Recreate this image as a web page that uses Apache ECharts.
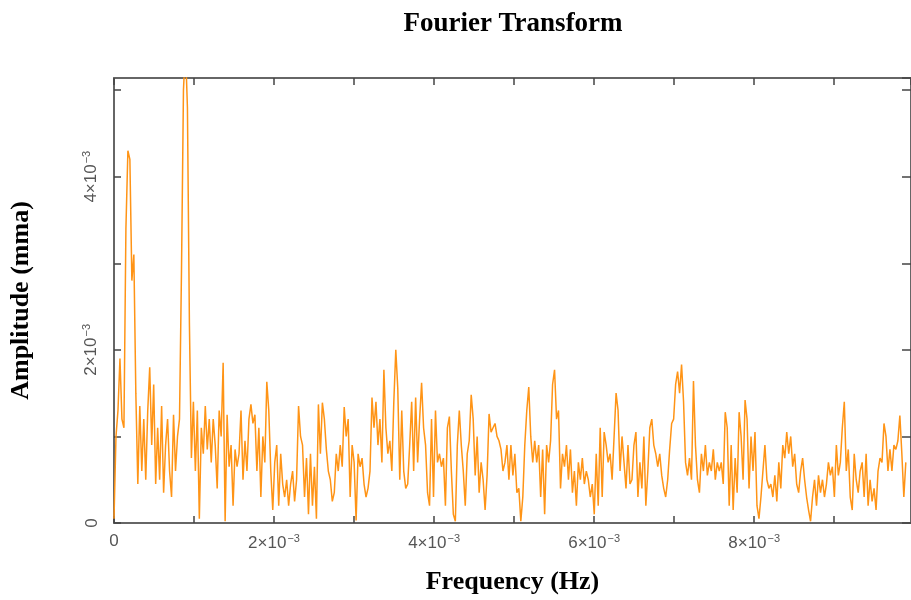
<!DOCTYPE html>
<html>
<head>
<meta charset="utf-8">
<script src="https://cdn.jsdelivr.net/npm/echarts@6/dist/echarts.min.js"></script>
<style>
html,body{margin:0;padding:0;background:#fff;}
#chart{width:911px;height:600px;}
</style>
</head>
<body>
<div id="chart"></div>
<script>
// Frequency in units of 10^-3 Hz, amplitude in units of 10^-3 (mma)
var titleText = 'Fourier Transform';
var xTitle = 'Frequency (Hz)';
var yTitle = 'Amplitude (mma)';
var freqStep = 0.0248;           // frequency bin width (x10^-3 Hz)
var xTickLabels = ['0', '2', '4', '6', '8'];
var yTickLabels = ['0', '2', '4'];
var amplitude = [
0.05,1.0,1.3,1.9,1.2,1.1,3.4,4.3,4.2,2.8,
3.1,1.5,0.45,1.35,0.6,1.2,0.5,1.3,1.8,0.9,
1.6,0.45,1.1,0.5,1.35,0.35,0.9,1.2,0.6,0.3,
1.25,0.6,1.0,1.2,2.9,5.0,5.5,4.8,2.3,0.75,
1.4,0.6,1.3,0.05,1.1,0.8,1.35,0.85,1.2,0.7,
1.2,0.9,0.4,1.3,1.0,1.85,0.02,1.25,0.65,0.9,
0.2,0.85,0.65,0.8,1.3,0.5,0.95,0.6,1.2,1.37,
1.15,1.25,0.6,1.1,0.3,1.0,0.7,1.63,1.3,0.6,
0.15,0.7,0.9,0.2,0.8,0.45,0.3,0.5,0.2,0.45,
0.6,0.25,0.5,1.35,1.0,0.9,0.3,0.75,0.1,0.8,
0.2,0.65,0.05,1.37,0.8,1.39,1.2,0.85,0.6,0.5,
0.25,0.35,0.8,0.6,0.9,0.65,1.34,1.0,1.2,0.3,
0.9,0.7,0.03,0.8,0.65,0.75,0.45,0.3,0.4,0.6,
1.45,1.1,1.4,0.9,1.2,0.7,1.77,1.1,0.8,0.95,
0.6,1.4,2.0,1.55,0.5,1.3,0.6,0.4,0.45,0.9,
1.4,0.6,1.45,0.7,1.2,1.62,1.1,0.9,0.35,0.2,
1.2,0.3,1.3,0.7,0.8,0.65,0.75,0.2,1.1,1.23,
0.6,0.1,0.02,0.9,1.3,0.9,0.6,0.2,0.8,0.95,
1.48,1.2,0.55,1.0,0.35,0.7,0.5,0.15,0.55,1.26,
1.05,1.1,1.15,1.0,0.95,0.85,0.6,0.7,0.9,0.5,
0.9,0.55,0.8,0.35,0.4,0.02,0.3,0.9,1.3,1.57,
1.0,0.7,0.95,0.7,0.9,0.3,0.85,0.1,0.9,0.7,
0.95,1.6,1.77,1.2,1.3,0.4,0.8,0.65,0.9,0.5,
0.85,0.35,0.6,0.2,0.7,0.5,0.75,0.45,0.6,0.5,
0.3,0.45,0.1,0.8,0.2,1.1,0.3,1.05,0.9,0.7,
0.8,0.5,1.0,1.5,1.3,0.6,1.0,0.7,0.4,0.9,
0.45,0.5,0.9,1.05,0.3,0.7,0.4,1.0,0.2,0.6,
1.1,1.2,0.9,0.8,0.65,0.8,0.55,0.4,0.3,0.5,
0.85,1.15,1.2,1.6,1.75,1.5,1.83,1.4,0.7,0.55,
0.75,0.5,1.64,0.9,0.5,0.35,0.8,0.6,0.9,0.55,
0.7,0.6,0.85,0.5,0.7,0.6,0.7,0.45,1.28,1.1,
0.2,0.9,0.15,0.75,0.35,1.28,1.0,0.5,1.42,1.2,
0.4,1.0,0.6,1.05,0.2,0.05,0.3,0.6,0.9,0.5,
0.4,0.45,0.3,0.55,0.25,0.7,0.4,0.9,0.75,1.05,
0.8,1.0,0.65,0.8,0.45,0.35,0.6,0.75,0.5,0.3,
0.15,0.02,0.3,0.5,0.2,0.55,0.35,0.5,0.3,0.45,
0.7,0.55,0.65,0.3,0.9,0.55,0.7,1.1,1.4,0.6,
0.85,0.3,0.15,0.8,0.5,0.35,0.6,0.7,0.3,0.8,
0.2,0.5,0.25,0.4,0.15,0.6,0.75,0.7,1.15,1.0,
0.6,0.85,0.6,0.9,0.85,0.95,1.24,0.8,0.3,0.7
];
var xMax = 9.96;
var yMax = 5.14;

var points = amplitude.map(function (a, i) { return [i * freqStep, a]; });

var tickFont = 'Liberation Sans';
function sciLabel(v) {
  if (v === 0) return '{n|0}';
  return '{n|' + v + '×10}{s|−3}';
}
var richLabel = {
  n: { fontSize: 17, color: '#555', fontFamily: tickFont },
  s: { fontSize: 11, color: '#555', fontFamily: tickFont, padding: [0, 0, 9, 1] }
};
var axisLineStyle = { color: '#666', width: 2 };

var chart = echarts.init(document.getElementById('chart'), null, { renderer: 'canvas' });
chart.setOption({
  backgroundColor: '#fff',
  animation: false,
  title: {
    text: titleText,
    left: 508, top: 6, textAlign: 'center',
    textStyle: { fontFamily: 'Liberation Serif', fontWeight: 'bold', fontSize: 27, color: '#000' }
  },
  grid: { left: 112, top: 78, right: -4, bottom: 77 },
  xAxis: [{
    type: 'value', min: 0, max: xMax, interval: 1,
    name: xTitle, nameLocation: 'middle', nameGap: 46,
    nameTextStyle: { fontFamily: 'Liberation Serif', fontWeight: 'bold', fontSize: 26, color: '#000' },
    axisLine: { show: true, onZero: false, lineStyle: axisLineStyle },
    axisTick: { show: true, inside: true, length: 7, lineStyle: { color: '#444', width: 1.5 } },
    splitLine: { show: false },
    axisLabel: {
      margin: 10, showMaxLabel: false,
      formatter: function (v) {
        var r = Math.round(v);
        if (Math.abs(v - r) > 1e-6) return '';
        return xTickLabels.indexOf(String(r)) >= 0 ? sciLabel(r) : '';
      },
      rich: richLabel
    }
  }, {
    type: 'value', min: 0, max: xMax, interval: 1, position: 'top',
    axisLine: { show: true, onZero: false, lineStyle: axisLineStyle },
    axisTick: { show: true, inside: true, length: 7, lineStyle: { color: '#444', width: 1.5 } },
    axisLabel: { show: false }, splitLine: { show: false }
  }],
  yAxis: [{
    type: 'value', min: 0, max: yMax, interval: 1,
    name: yTitle, nameLocation: 'middle', nameGap: 80,
    nameTextStyle: { fontFamily: 'Liberation Serif', fontWeight: 'bold', fontSize: 26, color: '#000' },
    axisLine: { show: true, onZero: false, lineStyle: axisLineStyle },
    axisTick: { show: true, inside: true, length: 7, lineStyle: { color: '#444', width: 1.5 } },
    splitLine: { show: false },
    axisLabel: {
      rotate: 90, margin: 13, showMaxLabel: false,
      formatter: function (v) {
        var r = Math.round(v);
        if (Math.abs(v - r) > 1e-6) return '';
        return yTickLabels.indexOf(String(r)) >= 0 ? sciLabel(r) : '';
      },
      rich: richLabel
    }
  }, {
    type: 'value', min: 0, max: yMax, interval: 1, position: 'right',
    axisLine: { show: true, onZero: false, lineStyle: axisLineStyle },
    axisTick: { show: true, inside: true, length: 9, lineStyle: { color: '#444', width: 1.5 } },
    axisLabel: { show: false }, splitLine: { show: false }
  }],
  series: [{
    type: 'line',
    data: points,
    showSymbol: false,
    clip: true,
    lineStyle: { color: '#ff9416', width: 1.5 },
    itemStyle: { color: '#ff9416' }
  }]
});
</script>
</body>
</html>
